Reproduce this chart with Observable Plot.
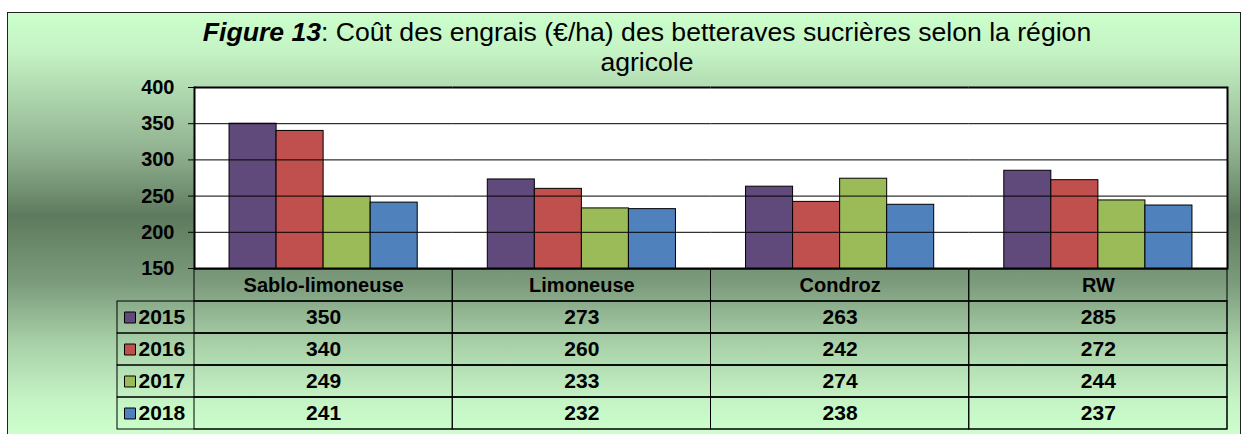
<!DOCTYPE html>
<html>
<head>
<meta charset="utf-8">
<script src="https://cdn.jsdelivr.net/npm/d3@7"></script>
<script src="https://cdn.jsdelivr.net/npm/@observablehq/plot@0.6"></script>
<style>
  body { margin: 0; background: #ffffff; font-family: "Liberation Sans", Arial, sans-serif; }
  #wrap { position: relative; width: 1242px; height: 434px; overflow: hidden; }
  #bg {
    position: absolute; left: 7px; top: 12px; width: 1232px; height: 440px;
    border: 1px solid #222;
    background: linear-gradient(to bottom, #ccffcc 0px, #c4f2c4 40px, #8fb08f 140px, #5e7a5e 203px, #7c9b7c 270px, #a8d0a8 330px, #c4f2c4 385px, #ccffcc 420px);
  }
  #title {
    position: absolute; left: 197px; top: 17px; width: 900px;
    text-align: center; font-size: 26.6px; line-height: 30px; color: #000;
  }
  #chart { position: absolute; left: 0; top: 76px; }
  #table { position: absolute; left: 0; top: 267px; }
</style>
</head>
<body>
<div id="wrap">
  <div id="bg"></div>
  <div id="title"><b><i>Figure 13</i></b>: Coût des engrais (€/ha) des betteraves sucrières selon la région<br>agricole</div>
  <div id="chart"></div>
  <div id="table"></div>
</div>
<script>
const regions = ["Sablo-limoneuse", "Limoneuse", "Condroz", "RW"];
const years = ["2015", "2016", "2017", "2018"];
const v2015 = [350, 273, 263, 285];
const v2016 = [340, 260, 242, 272];
const v2017 = [249, 233, 274, 244];
const v2018 = [241, 232, 238, 237];
const yearColors = ["#604A7B", "#C0504D", "#9BBB59", "#4F81BD"];
const yTicks = [150, 200, 250, 300, 350, 400];
const gridTicks = [200, 250, 300, 350];
const frameTicks = [150, 400];

const series = [v2015, v2016, v2017, v2018];
const rows = [];
years.forEach((yr, i) => regions.forEach((rg, j) => rows.push({year: yr, region: rg, value: series[i][j]})));

const font = {fontFamily: "'Liberation Sans', Arial, sans-serif", background: "transparent", color: "black", overflow: "visible"};

const chart = Plot.plot({
  width: 1242,
  height: 204,
  marginTop: 11,
  marginBottom: 12,
  marginLeft: 194,
  marginRight: 15,
  style: font,
  fx: {domain: regions, padding: 0, round: false, axis: null},
  x: {domain: years, paddingInner: 0, paddingOuter: 0.745, round: false, axis: null},
  y: {domain: [150, 400], axis: null},
  color: {domain: years, range: yearColors},
  marks: [
    Plot.frame({fill: "white", stroke: "white", strokeWidth: 1}),
    Plot.barY(rows, {fx: "region", x: "year", y: "value", fill: "year", stroke: "black", strokeWidth: 1, clip: true}),
    Plot.ruleY(gridTicks, {stroke: "black", strokeWidth: 1}),
    Plot.ruleY(frameTicks, {stroke: "black", strokeWidth: 2}),
    Plot.frame({anchor: "left", facetAnchor: "left", stroke: "black", strokeWidth: 2}),
    Plot.frame({anchor: "right", facetAnchor: "right", stroke: "black", strokeWidth: 2}),
    Plot.axisY({ticks: yTicks, tickSize: 6, tickPadding: 14, fontSize: 20, fontWeight: "bold", label: null, stroke: "black"})
  ]
});
document.getElementById("chart").appendChild(chart);

const headerKey = " ";
const table = Plot.plot({
  width: 1242,
  height: 165,
  marginTop: 1,
  marginBottom: 2,
  marginLeft: 117,
  marginRight: 15,
  style: font,
  x: {domain: regions, range: [194, 1227], padding: 0, round: false, axis: null},
  y: {domain: [headerKey, ...years], padding: 0, axis: null},
  color: {domain: years, range: yearColors},
  marks: [
    Plot.cell(years, {y: d => d, fill: "none", stroke: "black", strokeWidth: 1}),
    Plot.cell(rows, {x: "region", y: "year", fill: "none", stroke: "black", strokeWidth: 1}),
    Plot.cell(regions, {x: d => d, y: () => headerKey, fill: "none", stroke: "black", strokeWidth: 1}),
    Plot.text(regions, {x: d => d, y: () => headerKey, text: d => d, fontSize: 20, fontWeight: "bold", fill: "black"}),
    Plot.text(rows, {x: "region", y: "year", text: d => String(d.value), fontSize: 21, fontWeight: "bold", fill: "black"}),
    Plot.dot(years, {y: d => d, frameAnchor: "left", dx: 12.5, symbol: "square", r: 6.2, fill: d => d, stroke: "black", strokeWidth: 1}),
    Plot.text(years, {y: d => d, frameAnchor: "left", textAnchor: "start", dx: 21, text: d => d, fontSize: 21, fontWeight: "bold", fill: "black"})
  ]
});
document.getElementById("table").appendChild(table);
</script>
</body>
</html>
